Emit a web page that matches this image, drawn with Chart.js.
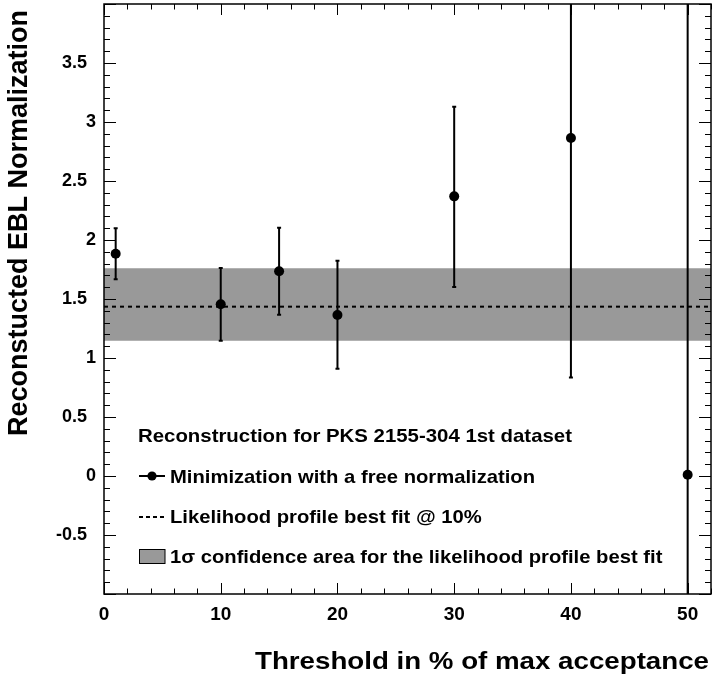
<!DOCTYPE html>
<html>
<head>
<meta charset="utf-8">
<script src="https://cdn.jsdelivr.net/npm/chart.js@4.4.1/dist/chart.umd.min.js"></script>
<style>
  html, body { margin: 0; padding: 0; background: #fff; }
  canvas { display: block; }
</style>
</head>
<body>
<canvas id="c" width="712" height="681"></canvas>
<script>
// threshold (% of max acceptance) and reconstructed normalization
const X_VALUES = [1, 10, 15, 20, 30, 40, 50];
const Y_VALUES = [1.884, 1.455, 1.735, 1.365, 2.37, 2.865, 0.01];
const Y_HIGH = [2.10, 1.762, 2.103, 1.825, 3.13, 5.0, 5.0];
const Y_LOW = [1.667, 1.147, 1.366, 0.908, 1.602, 0.835, -5.0];

// likelihood profile best fit and its 1 sigma band
const BEST_FIT = 1.435;
const BAND_LOW = 1.147, BAND_HIGH = 1.76;

const X_MIN = 0, X_MAX = 52, Y_MIN = -1, Y_MAX = 4;
const X_TICKS = [0, 10, 20, 30, 40, 50];
const Y_TICKS = [-0.5, 0, 0.5, 1, 1.5, 2, 2.5, 3, 3.5];

const LEGEND_TITLE = "Reconstruction for PKS 2155-304 1st dataset";
const LEGEND_ITEMS = ["Minimization with a free normalization",
  "Likelihood profile best fit @ 10%",
  "1\u03c3 confidence area for the likelihood profile best fit"];
const X_TITLE = "Threshold in % of max acceptance";
const Y_TITLE = "Reconstucted EBL Normalization";

const FONT = "'Liberation Sans', Arial, Helvetica, sans-serif";
const BAND = "#999999";

function stretched(ctx, text, x, y, sx, size) {
  ctx.save();
  ctx.translate(x, y);
  ctx.scale(sx, 1);
  ctx.font = `bold ${size}px ${FONT}`;
  ctx.textAlign = "left";
  ctx.textBaseline = "alphabetic";
  ctx.fillText(text, 0, 0);
  ctx.restore();
}

const rootStyle = {
  id: "rootStyle",
  afterDatasetsDraw(chart) {
    const { ctx, chartArea: a, scales: { x, y } } = chart;
    ctx.save();
    ctx.beginPath();
    ctx.rect(a.left, a.top, a.right - a.left, a.bottom - a.top);
    ctx.clip();
    ctx.strokeStyle = "#000";
    ctx.lineWidth = 2;
    X_VALUES.forEach((xv, i) => {
      const px = x.getPixelForValue(xv);
      const hi = y.getPixelForValue(Y_HIGH[i]), lo = y.getPixelForValue(Y_LOW[i]);
      ctx.beginPath();
      ctx.moveTo(px, hi); ctx.lineTo(px, lo);
      ctx.moveTo(px - 2, hi); ctx.lineTo(px + 2, hi);
      ctx.moveTo(px - 2, lo); ctx.lineTo(px + 2, lo);
      ctx.stroke();
    });
    ctx.restore();
  },
  afterDraw(chart) {
    const { ctx, chartArea: a, scales: { x, y } } = chart;
    ctx.save();
    ctx.strokeStyle = "#000";
    // inside ticks on all four sides
    ctx.lineWidth = 1;
    ctx.beginPath();
    for (let v = X_MIN; v <= X_MAX; v += 2) {
      const px = Math.round(x.getPixelForValue(v)) + 0.5;
      const len = v % 10 === 0 ? 11 : 5.5;
      ctx.moveTo(px, a.bottom); ctx.lineTo(px, a.bottom - len);
      ctx.moveTo(px, a.top); ctx.lineTo(px, a.top + len);
    }
    for (let i = Y_MIN * 10; i <= Y_MAX * 10; i++) {
      const py = Math.round(y.getPixelForValue(i / 10)) + 0.5;
      const len = i % 5 === 0 ? 12 : 6;
      ctx.moveTo(a.left, py); ctx.lineTo(a.left + len, py);
      ctx.moveTo(a.right, py); ctx.lineTo(a.right - len, py);
    }
    ctx.stroke();
    ctx.lineWidth = 1.5;
    ctx.strokeRect(a.left, a.top, a.right - a.left, a.bottom - a.top);

    // legend
    ctx.fillStyle = "#000";
    stretched(ctx, LEGEND_TITLE, 138, 442, 1.073, 19);
    ctx.lineWidth = 2;
    ctx.beginPath(); ctx.moveTo(139, 476); ctx.lineTo(165, 476); ctx.stroke();
    ctx.beginPath(); ctx.arc(152, 476, 4.6, 0, Math.PI * 2); ctx.fill();
    stretched(ctx, LEGEND_ITEMS[0], 170, 483, 1.064, 19);
    ctx.setLineDash([4, 3]);
    ctx.beginPath(); ctx.moveTo(139, 517); ctx.lineTo(166, 517); ctx.stroke();
    ctx.setLineDash([]);
    stretched(ctx, LEGEND_ITEMS[1], 170, 523, 1.064, 19);
    ctx.fillStyle = BAND;
    ctx.fillRect(139.5, 549.5, 25.5, 14);
    ctx.lineWidth = 1;
    ctx.strokeRect(139.5, 549.5, 25.5, 14);
    ctx.fillStyle = "#000";
    stretched(ctx, LEGEND_ITEMS[2], 170, 562.5, 1.064, 19);

    // axis titles
    ctx.font = `bold 24px ${FONT}`;
    const w = ctx.measureText(X_TITLE).width * 1.154;
    stretched(ctx, X_TITLE, 709 - w, 669, 1.154, 24);
    ctx.save();
    ctx.translate(27, 10);
    ctx.rotate(-Math.PI / 2);
    ctx.font = `bold 27px ${FONT}`;
    ctx.textAlign = "right";
    ctx.textBaseline = "alphabetic";
    ctx.fillText(Y_TITLE, 0, 0);
    ctx.restore();
    ctx.restore();
  }
};

const line = (yv) => [{ x: X_MIN, y: yv }, { x: X_MAX, y: yv }];

new Chart(document.getElementById("c"), {
  type: "scatter",
  data: {
    datasets: [
      {
        data: X_VALUES.map((v, i) => ({ x: v, y: Y_VALUES[i] })),
        pointRadius: 5, pointHoverRadius: 5, pointBackgroundColor: "#000",
        pointBorderColor: "#000", pointBorderWidth: 0, order: 0
      },
      {
        data: line(BEST_FIT), showLine: true, borderColor: "#000", borderWidth: 2,
        borderDash: [4, 4], pointRadius: 0, fill: false, order: 1
      },
      { data: line(BAND_LOW), showLine: true, borderWidth: 0, pointRadius: 0, fill: false, order: 3 },
      {
        data: line(BAND_HIGH), showLine: true, borderWidth: 0, pointRadius: 0,
        fill: "-1", backgroundColor: BAND, order: 2
      }
    ]
  },
  options: {
    responsive: false,
    animation: false,
    layout: { autoPadding: false, padding: { top: 4, right: 1, left: 0, bottom: 0 } },
    plugins: { legend: { display: false }, tooltip: { enabled: false } },
    scales: {
      x: {
        type: "linear", min: X_MIN, max: X_MAX,
        grid: { display: false, drawTicks: false }, border: { display: false },
        ticks: {
          color: "#000", font: { family: FONT, size: 19, weight: "bold" },
          padding: 9, maxRotation: 0, autoSkip: false
        },
        afterBuildTicks: s => { s.ticks = X_TICKS.map(v => ({ value: v })); },
        afterFit: s => { s.height = 87; s.paddingLeft = 0; s.paddingRight = 0; }
      },
      y: {
        type: "linear", min: Y_MIN, max: Y_MAX,
        grid: { display: false, drawTicks: false }, border: { display: false },
        ticks: {
          color: "#000", font: { family: FONT, size: 18, weight: "bold" },
          padding: 8, autoSkip: false,
          callback: v => Number.isInteger(v) ? String(v) : v + "\u2002"
        },
        afterBuildTicks: s => { s.ticks = Y_TICKS.map(v => ({ value: v })); },
        afterFit: s => { s.width = 104; s.paddingTop = 0; s.paddingBottom = 0; }
      }
    }
  },
  plugins: [rootStyle]
});
</script>
</body>
</html>
